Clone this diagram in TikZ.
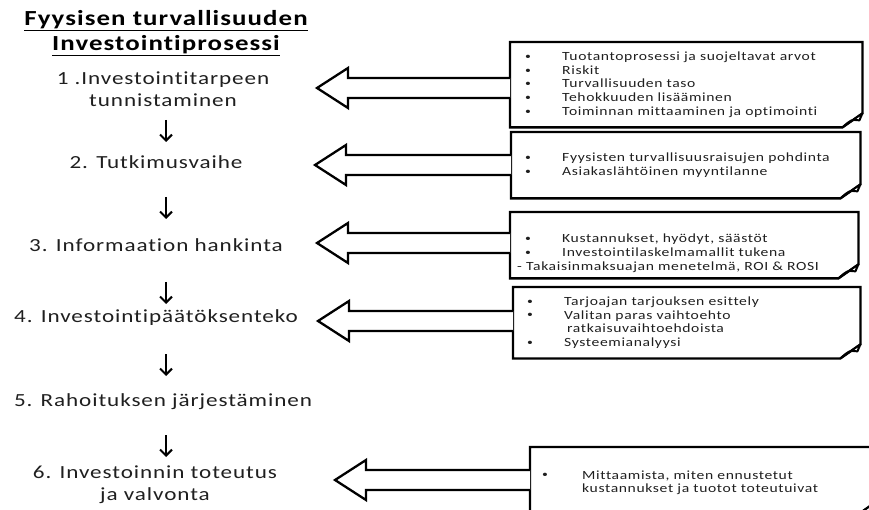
\documentclass[tikz,border=0pt]{standalone}
\usepackage{fontspec}
\setmainfont{Carlito}[FakeStretch=1.25, LetterSpace=5, Ligatures=NoCommon]
\usetikzlibrary{arrows.meta}

\newcommand\bdot{\raisebox{0.2ex}{\scalebox{0.75}{\textbullet}}}
\newcommand\bl{\makebox[37pt][l]{\bdot}}

\begin{document}
\begin{tikzpicture}[x=1pt,y=-1pt,
  steptext/.style={font=\fontsize{18.5}{22}\selectfont, align=center, inner sep=0pt, text=black!88},
  titletext/.style={font=\fontsize{21.5}{25}\selectfont\bfseries, align=center, inner sep=0pt},
  downarrow/.style={line width=2pt, -{Straight Barb[length=6pt,width=12pt,line width=2pt]}},
  infobox/.style={font=\fontsize{12.5}{13.7}\selectfont, align=left, inner sep=0pt, anchor=north west, text=black!88},
  outline/.style={line width=2.3pt, line join=miter},
  blockarrow/.style={line width=2.3pt, fill=white, line join=miter}
]
\useasboundingbox (0,0) rectangle (869,510);

% title and process steps
\node[titletext] (title) at (166,33) {\underline{Fyysisen turvallisuuden}\\\underline{Investointiprosessi}};
\node[steptext] (s1) at (163,89) {1 .Investointitarpeen\\tunnistaminen};
\node[steptext] (s2) at (156,162) {2. Tutkimusvaihe};
\node[steptext] (s3) at (156,245) {3. Informaation hankinta};
\node[steptext] (s4) at (156,318) {4. Investointipäätöksenteko};
\node[steptext] (s5) at (163,402) {5. Rahoituksen järjestäminen};
\node[steptext] (s6) at (155,485) {6. Investoinnin toteutus\\ja valvonta};

% arrows between the steps
\coordinate (d1a) at (166,120); \coordinate (d1b) at (166,142);
\coordinate (d2a) at (166,197); \coordinate (d2b) at (166,219);
\coordinate (d3a) at (166,282); \coordinate (d3b) at (166,304);
\coordinate (d4a) at (166,354); \coordinate (d4b) at (166,376);
\coordinate (d5a) at (166,435); \coordinate (d5b) at (166,457);
\foreach \i in {1,...,5} \draw[downarrow] (d\i a) -- (d\i b);

% note boxes
\node[infobox, text width=352pt, minimum height=85pt] (b1) at (510,42)
  {\hspace*{15pt}\bl Tuotantoprosessi ja  suojeltavat arvot\\
   \hspace*{15pt}\bl Riskit\\
   \hspace*{15pt}\bl Turvallisuuden taso\\
   \hspace*{15pt}\bl Tehokkuuden lisääminen\\
   \hspace*{15pt}\bl Toiminnan mittaaminen ja optimointi};
\node[infobox, text width=349pt, minimum height=66pt] (b2) at (511,132)
  {\hspace*{14pt}\bl Fyysisten turvallisuusraisujen  pohdinta\\
   \hspace*{14pt}\bl Asiakaslähtöinen myyntilanne};
\node[infobox, text width=348pt, minimum height=66pt] (b3) at (510,212)
  {\rule{0pt}{25pt}\hspace*{15pt}\bl Kustannukset, hyödyt, säästöt\\
   \hspace*{15pt}\bl Investointilaskelmamallit tukena\\
   \hspace*{7pt}- Takaisinmaksuajan menetelmä, ROI \& ROSI};
\node[infobox, text width=347pt, minimum height=71pt] (b4) at (513,287)
  {\hspace*{14pt}\bl Tarjoajan tarjouksen esittely\\
   \hspace*{14pt}\bl Valitan paras  vaihtoehto\\
   \hspace*{54pt}ratkaisuvaihtoehdoista\\
   \hspace*{14pt}\bl Systeemianalyysi};
\node[infobox, text width=342pt, minimum height=71pt] (b6) at (530,447)
  {\hspace*{12pt}\makebox[40pt][l]{\bdot}Mittaamista, miten ennustetut\\
   \hspace*{52pt}kustannukset  ja tuotot toteutuivat};

% outlines with a folded bottom-right corner
\foreach \b in {b1,b2,b3,b4,b6} {
  \draw[outline] (\b.north west) -- (\b.north east) -- ([yshift=14pt]\b.south east)
    -- ([xshift=-20pt]\b.south east) -- (\b.south west) -- cycle;
  \filldraw[fill=white, line width=2pt, line join=round] ([xshift=-20pt]\b.south east)
    .. controls ([xshift=-11pt,yshift=8pt]\b.south east) .. ([xshift=-3pt,yshift=7pt]\b.south east)
    -- ([yshift=14pt]\b.south east) -- cycle;
}

% block arrows from each box to its step
\coordinate (t1) at (317,88);
\coordinate (t2) at (315,165);
\coordinate (t3) at (317,243);
\coordinate (t4) at (318,321);
\coordinate (t6) at (335,480);
\foreach \b/\t in {b1/t1,b2/t2,b3/t3,b4/t4,b6/t6} {
  \draw[blockarrow] (\b.west |- \t) ++(0,-10) -- ([shift={(31,-10)}]\t) -- ([shift={(31,-20)}]\t)
    -- (\t) -- ([shift={(31,20)}]\t) -- ([shift={(31,10)}]\t) -- ([yshift=-10pt]\b.west |- \t);
}
\end{tikzpicture}
\end{document}
